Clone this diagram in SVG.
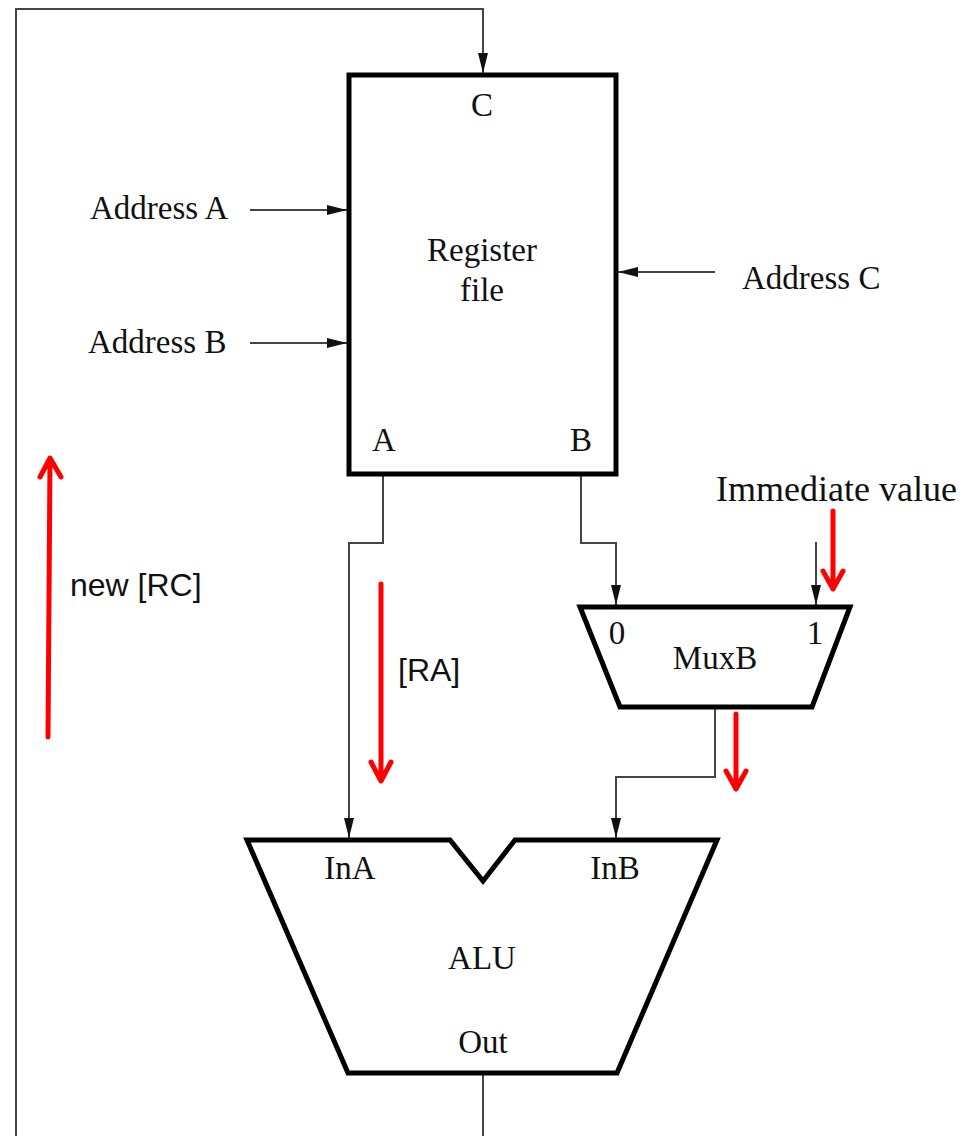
<svg xmlns="http://www.w3.org/2000/svg" width="976" height="1136" viewBox="0 0 976 1136">
<defs>
<marker id="ah" markerUnits="userSpaceOnUse" markerWidth="20" markerHeight="12" refX="20" refY="5" orient="auto">
<path d="M0,0 L20,5 L0,10 Z" fill="#111"/>
</marker>
</defs>
<style>
.t{font-family:"Liberation Serif","Times New Roman",serif;font-size:33px;fill:#111}
.s{font-family:"Liberation Sans",Arial,sans-serif;font-size:32px;fill:#111}
.w{fill:none;stroke:#444;stroke-width:2}
.box{fill:#fff;stroke:#000;stroke-width:5;stroke-linejoin:miter}
.red{fill:none;stroke:#f00;stroke-width:5;stroke-linecap:round;stroke-linejoin:round}
</style>
<rect width="976" height="1136" fill="#fff"/>
<g id="connectors">
<path class="w" d="M483,1073 L483,1136"/>
<path class="w" d="M16,1136 L16,9 L483,9 L483,73" marker-end="url(#ah)"/>
<path class="w" d="M250,210 L347,210" marker-end="url(#ah)"/>
<path class="w" d="M250,343 L347,343" marker-end="url(#ah)"/>
<path class="w" d="M715,272 L618,272" marker-end="url(#ah)"/>
<path class="w" d="M383,476 L383,543 L349,543 L349,838" marker-end="url(#ah)"/>
<path class="w" d="M581,476 L581,543 L616,543 L616,605" marker-end="url(#ah)"/>
<path class="w" d="M816,542 L816,605" marker-end="url(#ah)"/>
<path class="w" d="M715,709 L715,777 L616,777 L616,838" marker-end="url(#ah)"/>
</g>
<g id="regfile">
<rect class="box" x="349" y="75" width="267" height="399"/>
<text class="t" x="482" y="116" text-anchor="middle">C</text>
<text class="t" x="482" y="261" text-anchor="middle">Register</text>
<text class="t" x="482" y="301" text-anchor="middle">file</text>
<text class="t" x="384" y="451" text-anchor="middle">A</text>
<text class="t" x="581" y="451" text-anchor="middle">B</text>
</g>
<g id="addrA"><text class="t" x="90" y="219">Address A</text></g>
<g id="addrB"><text class="t" x="88" y="353">Address B</text></g>
<g id="addrC"><text class="t" x="742" y="289">Address C</text></g>
<g id="imm"><text class="t" x="716" y="501" style="font-size:36px">Immediate value</text></g>
<g id="muxb">
<path class="box" d="M580,607 L850,607 L812,707 L620,707 Z"/>
<text class="t" x="617" y="644" text-anchor="middle">0</text>
<text class="t" x="815" y="644" text-anchor="middle">1</text>
<text class="t" x="715" y="669" text-anchor="middle">MuxB</text>
</g>
<g id="alu">
<path class="box" d="M247,840 L450,840 L483,881 L515,840 L717,840 L617,1073 L348,1073 Z"/>
<text class="t" x="350" y="879" text-anchor="middle">InA</text>
<text class="t" x="615" y="879" text-anchor="middle">InB</text>
<text class="t" x="482" y="969" text-anchor="middle">ALU</text>
<text class="t" x="483" y="1053" text-anchor="middle">Out</text>
</g>
<g id="annotations">
<path class="red" d="M48,737 L50,460 M40,477 L50,458 L61,477"/>
<text class="s" x="70" y="596">new [RC]</text>
<path class="red" d="M381,584 L381,780 M371,762 L381,781 L391,762"/>
<text class="s" x="398" y="681">[RA]</text>
<path class="red" d="M833,511 L833,588 M823,571 L833,589 L843,571"/>
<path class="red" d="M736,714 L736,788 M726,771 L736,789 L746,771"/>
</g>
</svg>
